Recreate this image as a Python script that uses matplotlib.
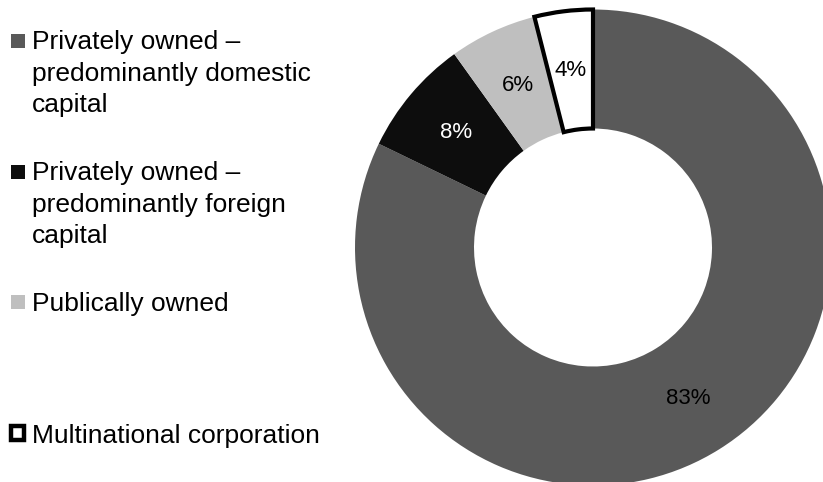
import matplotlib.pyplot as plt
from matplotlib.patches import Rectangle
import numpy as np

plt.rcParams['font.family'] = ['Liberation Sans', 'DejaVu Sans']

# ownership shares, percent
categories = ['Privately owned –\npredominantly domestic\ncapital',
              'Privately owned –\npredominantly foreign\ncapital',
              'Publically owned',
              'Multinational corporation']
shares = [83, 8, 6, 4]
colors = ['#595959', '#0d0d0d', '#bfbfbf', '#ffffff']
label_colors = ['black', 'white', 'black', 'black']

W, H = 823, 482
fig = plt.figure(figsize=(W / 100, H / 100), dpi=100)

# donut axes, centre at (593, 247) px from top-left, outer radius 238 px
cx, cy, r = 593, 247.5, 238
ax = fig.add_axes([(cx - r) / W, (H - cy - r) / H, 2 * r / W, 2 * r / H])
wedges, _ = ax.pie(shares, colors=colors, startangle=90, counterclock=False,
                   radius=1, wedgeprops=dict(width=0.5, edgecolor='none'))
wedges[3].set_edgecolor('black')
wedges[3].set_linewidth(3)
wedges[3].set_zorder(3)
ax.set_xlim(-1, 1)
ax.set_ylim(-1, 1)

for w, v, c in zip(wedges, shares, label_colors):
    ang = np.deg2rad((w.theta1 + w.theta2) / 2)
    ax.text(0.75 * np.cos(ang), 0.75 * np.sin(ang), f'{v}%', ha='center',
            va='center', fontsize=16, color=c, zorder=5)

# legend drawn by hand in pixel units
tops = [30, 161, 291, 423]
for lab, col, t, i in zip(categories, colors, tops, range(4)):
    if i < 3:
        sq = Rectangle((11 / W, 1 - (t + 18) / H), 14 / W, 14 / H,
                       transform=fig.transFigure, facecolor=col,
                       edgecolor='none')
    else:
        sq = Rectangle((10.5 / W, 1 - (t + 17) / H), 14 / W, 14 / H,
                       transform=fig.transFigure, facecolor=col,
                       edgecolor='black', linewidth=3.2)
    fig.add_artist(sq)
    fig.text(32 / W, 1 - (t + 0.5) / H, lab, ha='left', va='top',
             fontsize=19, linespacing=1.38)

fig.savefig('out.png', dpi=100)
